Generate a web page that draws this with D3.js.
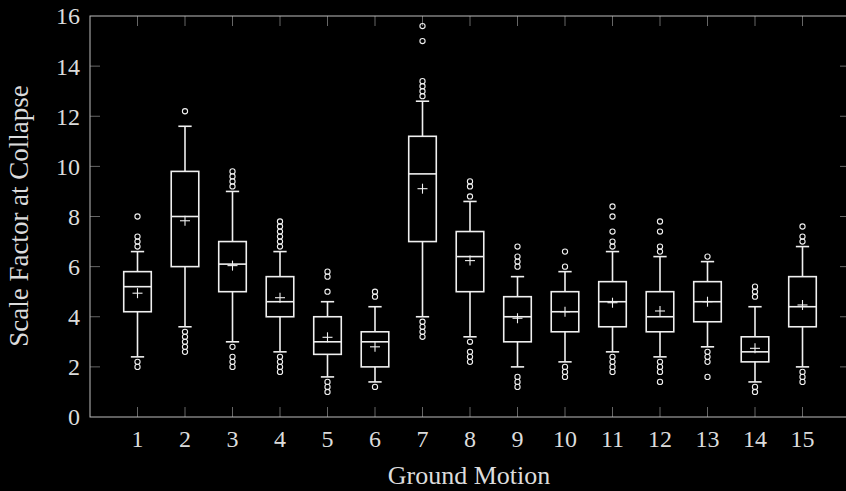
<!DOCTYPE html>
<html>
<head>
<meta charset="utf-8">
<script src="https://cdn.jsdelivr.net/npm/d3@7"></script>
<style>
html, body { margin: 0; padding: 0; background: #000; }
svg { display: block; }
text { font-family: "Liberation Serif", "DejaVu Serif", serif; fill: #dcdcdc; }
</style>
</head>
<body>
<script>
const categories = [1, 2, 3, 4, 5, 6, 7, 8, 9, 10, 11, 12, 13, 14, 15];
const whiskerLow  = [2.4, 3.6, 3.0, 2.6, 1.6, 1.4, 4.0, 3.2, 2.0, 2.2, 2.6, 2.4, 2.8, 1.4, 2.0];
const q1          = [4.2, 6.0, 5.0, 4.0, 2.5, 2.0, 7.0, 5.0, 3.0, 3.4, 3.6, 3.4, 3.8, 2.2, 3.6];
const median      = [5.2, 8.0, 6.1, 4.6, 3.0, 3.0, 9.7, 6.4, 4.0, 4.2, 4.6, 4.0, 4.6, 2.6, 4.4];
const q3          = [5.8, 9.8, 7.0, 5.6, 4.0, 3.4, 11.2, 7.4, 4.8, 5.0, 5.4, 5.0, 5.4, 3.2, 5.6];
const whiskerHigh = [6.6, 11.6, 9.0, 6.6, 4.6, 4.4, 12.6, 8.6, 5.6, 5.8, 6.6, 6.4, 6.2, 4.4, 6.8];
const means       = [4.94, 7.83, 6.04, 4.76, 3.18, 2.8, 9.11, 6.24, 3.94, 4.2, 4.56, 4.23, 4.6, 2.74, 4.47];
const outliers = [
  [8.0, 7.2, 7.0, 6.8, 2.2, 2.0],
  [12.2, 3.4, 3.2, 3.0, 2.8, 2.6],
  [9.8, 9.6, 9.4, 9.2, 2.8, 2.4, 2.2, 2.0],
  [7.8, 7.6, 7.4, 7.2, 7.0, 6.8, 2.4, 2.2, 2.0, 1.8],
  [5.8, 5.6, 5.0, 1.4, 1.2, 1.0],
  [5.0, 4.8, 1.2],
  [15.6, 15.0, 13.4, 13.2, 13.0, 12.8, 3.8, 3.6, 3.4, 3.2],
  [9.4, 9.2, 8.8, 3.0, 2.6, 2.4, 2.2],
  [6.8, 6.4, 6.2, 6.0, 1.6, 1.4, 1.2],
  [6.6, 6.0, 2.0, 1.8, 1.6],
  [8.4, 8.0, 7.4, 7.0, 6.8, 2.4, 2.2, 2.0, 1.8],
  [7.8, 7.4, 6.8, 6.6, 2.2, 2.0, 1.8, 1.4],
  [6.4, 2.6, 2.4, 2.2, 1.6],
  [5.2, 5.0, 4.8, 1.2, 1.0],
  [7.6, 7.2, 7.0, 1.8, 1.6, 1.4]
];
const yTicks = [0, 2, 4, 6, 8, 10, 12, 14, 16];
const xLabel = "Ground Motion";
const yLabel = "Scale Factor at Collapse";

(function () {
const W = 846, H = 491;
const mLeft = 90, mRight = 850, mTop = 16, mBottom = 417;

const svg = d3.select("body").append("svg").attr("width", W).attr("height", H);

const x = d3.scaleLinear().domain([0, 16]).range([mLeft, mRight]);
const y = d3.scaleLinear().domain([0, 16]).range([mBottom, mTop]);

const frameColor = "#bdbdbd";
const tickColor = "#808080";
const boxColor = "#f0f0f0";

const g = svg.append("g");
g.selectAll(".yt").data(yTicks.slice(1, -1)).join("line")
  .attr("x1", mLeft).attr("x2", mLeft + 10)
  .attr("y1", d => y(d)).attr("y2", d => y(d))
  .attr("stroke", tickColor).attr("stroke-width", 0.8);
g.selectAll(".yt2").data(yTicks.slice(1, -1)).join("line")
  .attr("x1", mRight).attr("x2", mRight - 10)
  .attr("y1", d => y(d)).attr("y2", d => y(d))
  .attr("stroke", tickColor).attr("stroke-width", 0.8);
g.selectAll(".xt").data(categories).join("line")
  .attr("x1", d => x(d)).attr("x2", d => x(d))
  .attr("y1", mBottom).attr("y2", mBottom - 10)
  .attr("stroke", tickColor).attr("stroke-width", 0.8);
g.selectAll(".xt2").data(categories).join("line")
  .attr("x1", d => x(d)).attr("x2", d => x(d))
  .attr("y1", mTop).attr("y2", mTop + 10)
  .attr("stroke", tickColor).attr("stroke-width", 0.8);

svg.append("rect").attr("x", mLeft).attr("y", mTop)
  .attr("width", mRight - mLeft).attr("height", mBottom - mTop)
  .attr("fill", "none").attr("stroke", frameColor).attr("stroke-width", 1);

svg.selectAll(".ylab").data(yTicks).join("text")
  .attr("x", mLeft - 10).attr("y", d => y(d))
  .attr("dy", "0.35em").attr("text-anchor", "end")
  .attr("font-size", 24).text(d => d);
svg.selectAll(".xlab").data(categories).join("text")
  .attr("x", d => x(d)).attr("y", 447)
  .attr("text-anchor", "middle")
  .attr("font-size", 24).text(d => d);

svg.append("text").attr("x", 469).attr("y", 484)
  .attr("text-anchor", "middle").attr("font-size", 26).text(xLabel);
svg.append("text")
  .attr("transform", `translate(28, 216) rotate(-90)`)
  .attr("text-anchor", "middle").attr("font-size", 27).text(yLabel);

const boxW = 0.58, capW = 0.28;
const boxes = svg.append("g").attr("stroke", boxColor).attr("stroke-width", 1.6).attr("fill", "none");
categories.forEach((c, i) => {
  const cx = x(c);
  const bw = x(boxW) - x(0), cw = x(capW) - x(0);
  const b = boxes.append("g");
  b.append("line").attr("x1", cx).attr("x2", cx).attr("y1", y(q3[i])).attr("y2", y(whiskerHigh[i]));
  b.append("line").attr("x1", cx).attr("x2", cx).attr("y1", y(q1[i])).attr("y2", y(whiskerLow[i]));
  b.append("line").attr("x1", cx - cw / 2).attr("x2", cx + cw / 2).attr("y1", y(whiskerHigh[i])).attr("y2", y(whiskerHigh[i]));
  b.append("line").attr("x1", cx - cw / 2).attr("x2", cx + cw / 2).attr("y1", y(whiskerLow[i])).attr("y2", y(whiskerLow[i]));
  b.append("rect").attr("x", cx - bw / 2).attr("y", y(q3[i]))
    .attr("width", bw).attr("height", y(q1[i]) - y(q3[i]));
  b.append("line").attr("x1", cx - bw / 2).attr("x2", cx + bw / 2).attr("y1", y(median[i])).attr("y2", y(median[i]));
  const my = y(means[i]);
  b.append("line").attr("x1", cx - 5).attr("x2", cx + 5).attr("y1", my).attr("y2", my).attr("stroke-width", 1.1);
  b.append("line").attr("x1", cx).attr("x2", cx).attr("y1", my - 5).attr("y2", my + 5).attr("stroke-width", 1.1);
  b.selectAll("circle").data(outliers[i]).join("circle")
    .attr("cx", cx).attr("cy", d => y(d)).attr("r", 2.6).attr("stroke-width", 1.1);
});
})();
</script>
</body>
</html>
